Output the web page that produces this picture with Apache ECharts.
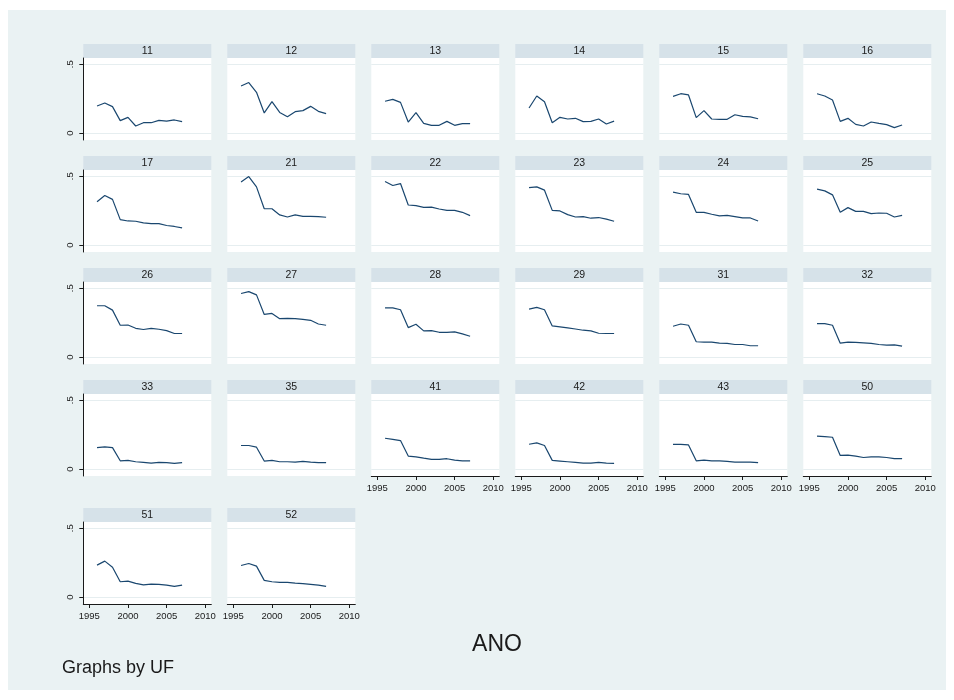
<!DOCTYPE html>
<html>
<head>
<meta charset="utf-8">
<script src="https://cdn.jsdelivr.net/npm/echarts@6/dist/echarts.min.js"></script>
<style>
  html, body { margin: 0; padding: 0; background: #ffffff; }
  #chart { width: 954px; height: 700px; }
</style>
</head>
<body>
<div id="chart"></div>
<script>
// Years on the horizontal axis of every panel
const years = [1996, 1997, 1998, 1999, 2000, 2001, 2002, 2003, 2004, 2005, 2006, 2007];

// One series per UF, values by year
const uf11 = [0.197, 0.218, 0.192, 0.090, 0.114, 0.051, 0.075, 0.075, 0.092, 0.087, 0.095, 0.083];
const uf12 = [0.342, 0.367, 0.296, 0.146, 0.228, 0.150, 0.119, 0.155, 0.163, 0.194, 0.158, 0.141];
const uf13 = [0.231, 0.245, 0.223, 0.080, 0.148, 0.070, 0.056, 0.056, 0.085, 0.056, 0.068, 0.068];
const uf14 = [0.182, 0.269, 0.228, 0.075, 0.114, 0.102, 0.107, 0.083, 0.085, 0.102, 0.066, 0.087];
const uf15 = [0.267, 0.286, 0.277, 0.112, 0.163, 0.102, 0.100, 0.100, 0.133, 0.121, 0.117, 0.104];
const uf16 = [0.286, 0.269, 0.240, 0.085, 0.107, 0.063, 0.051, 0.080, 0.070, 0.061, 0.039, 0.058];
const uf17 = [0.315, 0.360, 0.332, 0.185, 0.175, 0.173, 0.161, 0.156, 0.156, 0.142, 0.135, 0.125];
const uf21 = [0.459, 0.498, 0.423, 0.264, 0.264, 0.219, 0.204, 0.219, 0.209, 0.209, 0.207, 0.202];
const uf22 = [0.462, 0.433, 0.447, 0.291, 0.286, 0.274, 0.276, 0.262, 0.252, 0.252, 0.238, 0.214];
const uf23 = [0.418, 0.423, 0.399, 0.252, 0.248, 0.221, 0.204, 0.207, 0.195, 0.200, 0.188, 0.173];
const uf24 = [0.385, 0.373, 0.368, 0.238, 0.238, 0.224, 0.212, 0.216, 0.207, 0.197, 0.197, 0.175];
const uf25 = [0.406, 0.394, 0.365, 0.238, 0.272, 0.245, 0.245, 0.228, 0.233, 0.231, 0.204, 0.216];
const uf26 = [0.373, 0.373, 0.341, 0.231, 0.233, 0.209, 0.200, 0.209, 0.202, 0.192, 0.171, 0.171];
const uf27 = [0.462, 0.476, 0.452, 0.310, 0.317, 0.279, 0.281, 0.279, 0.274, 0.267, 0.240, 0.231];
const uf28 = [0.358, 0.358, 0.344, 0.214, 0.238, 0.190, 0.192, 0.180, 0.180, 0.183, 0.168, 0.151];
const uf29 = [0.349, 0.361, 0.344, 0.226, 0.219, 0.212, 0.204, 0.195, 0.190, 0.173, 0.171, 0.171];
const uf31 = [0.224, 0.240, 0.231, 0.111, 0.108, 0.108, 0.101, 0.099, 0.091, 0.091, 0.082, 0.082];
const uf32 = [0.243, 0.243, 0.231, 0.101, 0.108, 0.106, 0.103, 0.099, 0.091, 0.087, 0.089, 0.079];
const uf33 = [0.156, 0.161, 0.156, 0.060, 0.063, 0.053, 0.048, 0.043, 0.048, 0.046, 0.041, 0.046];
const uf35 = [0.171, 0.171, 0.159, 0.058, 0.063, 0.053, 0.053, 0.050, 0.055, 0.050, 0.046, 0.046];
const uf41 = [0.224, 0.216, 0.207, 0.094, 0.089, 0.079, 0.070, 0.070, 0.075, 0.065, 0.060, 0.060];
const uf42 = [0.180, 0.190, 0.171, 0.063, 0.058, 0.053, 0.048, 0.043, 0.043, 0.048, 0.043, 0.041];
const uf43 = [0.180, 0.180, 0.175, 0.060, 0.065, 0.060, 0.060, 0.055, 0.050, 0.050, 0.050, 0.046];
const uf50 = [0.240, 0.236, 0.231, 0.099, 0.101, 0.094, 0.084, 0.089, 0.089, 0.084, 0.075, 0.075];
const uf51 = [0.232, 0.261, 0.217, 0.111, 0.116, 0.099, 0.089, 0.094, 0.092, 0.087, 0.077, 0.087];
const uf52 = [0.229, 0.244, 0.225, 0.121, 0.111, 0.106, 0.106, 0.101, 0.097, 0.092, 0.087, 0.077];

// Panel labels (UF codes) in drawing order
const ufCodes = ['11', '12', '13', '14', '15', '16', '17', '21', '22', '23', '24', '25',
                 '26', '27', '28', '29', '31', '32', '33', '35', '41', '42', '43', '50', '51', '52'];
const ufSeries = [uf11, uf12, uf13, uf14, uf15, uf16, uf17, uf21, uf22, uf23, uf24, uf25,
                  uf26, uf27, uf28, uf29, uf31, uf32, uf33, uf35, uf41, uf42, uf43, uf50, uf51, uf52];

// Axis tick values
const xTicks = [1995, 2000, 2005, 2010];
const yTicks = [0, 0.5];

// Layout of the 6-column panel grid
const nCols = 6;
const colLeft0 = 83.3, colPitch = 144, panelW = 128;
const rowTops = [44, 156, 268, 380, 508];
const headerH = 14;
const plotH = 82;

const FONT = '"Liberation Sans", Arial, Helvetica, sans-serif';
const BG = '#eaf2f3';
const STRIP = '#d6e2e9';
const LINE = '#1a476f';
const GRIDLINE = '#e6eef0';
const INK = '#1a1a1a';

const nPanels = ufCodes.length;

// the last panel in each column carries the year axis
function isColumnBottom(i) {
  return i + nCols >= nPanels;
}

const grids = [], xAxes = [], yAxes = [], series = [], graphics = [];

graphics.push({
  type: 'rect', z: -10, silent: true,
  shape: { x: 8, y: 10, width: 938, height: 680 },
  style: { fill: BG }
});

for (let i = 0; i < nPanels; i++) {
  const col = i % nCols, row = Math.floor(i / nCols);
  const left = colLeft0 + col * colPitch;
  const top = rowTops[row];

  graphics.push({
    type: 'rect', silent: true,
    shape: { x: left, y: top, width: panelW, height: headerH },
    style: { fill: STRIP }
  });
  graphics.push({
    type: 'text', silent: true,
    x: left + panelW / 2, y: top + headerH / 2 + 0.5,
    style: { text: ufCodes[i], fill: INK, font: '10.5px ' + FONT, align: 'center', verticalAlign: 'middle' }
  });

  grids.push({
    left: left, top: top + headerH, width: panelW, height: plotH,
    show: true, backgroundColor: '#ffffff', borderWidth: 0
  });

  const showX = isColumnBottom(i);
  xAxes.push({
    gridIndex: i, type: 'value',
    min: 1994.224, max: 2010.776,
    position: 'bottom',
    show: showX,
    axisLine: { show: true, onZero: false, lineStyle: { color: INK, width: 1 } },
    axisTick: { show: true, length: 4, inside: false, customValues: xTicks, lineStyle: { color: INK } },
    axisLabel: { show: true, customValues: xTicks, margin: 7, fontSize: 9.5, color: INK, fontFamily: FONT,
                 hideOverlap: false, showMinLabel: true, showMaxLabel: true,
                 formatter: v => String(v) },
    splitLine: { show: false }
  });

  const showY = col === 0;
  yAxes.push({
    gridIndex: i, type: 'value',
    min: -0.0507, max: 0.5457,
    axisLine: { show: showY, onZero: false, lineStyle: { color: INK, width: 1 } },
    axisTick: { show: showY, length: 4, customValues: yTicks, lineStyle: { color: INK } },
    axisLabel: {
      show: showY, customValues: yTicks, rotate: 90, margin: 8, fontSize: 9.5, color: INK, fontFamily: FONT,
      formatter: v => String(v).replace(/^0(?=\.)/, '')
    },
    splitLine: { show: true, lineStyle: { color: GRIDLINE, width: 1 } }
  });

  series.push({
    type: 'line', xAxisIndex: i, yAxisIndex: i,
    data: years.map((y, k) => [y, ufSeries[i][k]]),
    showSymbol: false, symbol: 'none', silent: true, animation: false,
    lineStyle: { color: LINE, width: 1.2 }
  });
}

graphics.push({
  type: 'text', silent: true, x: 497, y: 645,
  style: { text: 'ANO', fill: INK, font: '23px ' + FONT, align: 'center', verticalAlign: 'middle' }
});
graphics.push({
  type: 'text', silent: true, x: 62, y: 668,
  style: { text: 'Graphs by UF', fill: INK, font: '18px ' + FONT, align: 'left', verticalAlign: 'middle' }
});

const chart = echarts.init(document.getElementById('chart'), null, { renderer: 'canvas' });
chart.setOption({
  backgroundColor: '#ffffff',
  animation: false,
  grid: grids,
  xAxis: xAxes,
  yAxis: yAxes,
  series: series,
  graphic: { elements: graphics }
});
</script>
</body>
</html>
